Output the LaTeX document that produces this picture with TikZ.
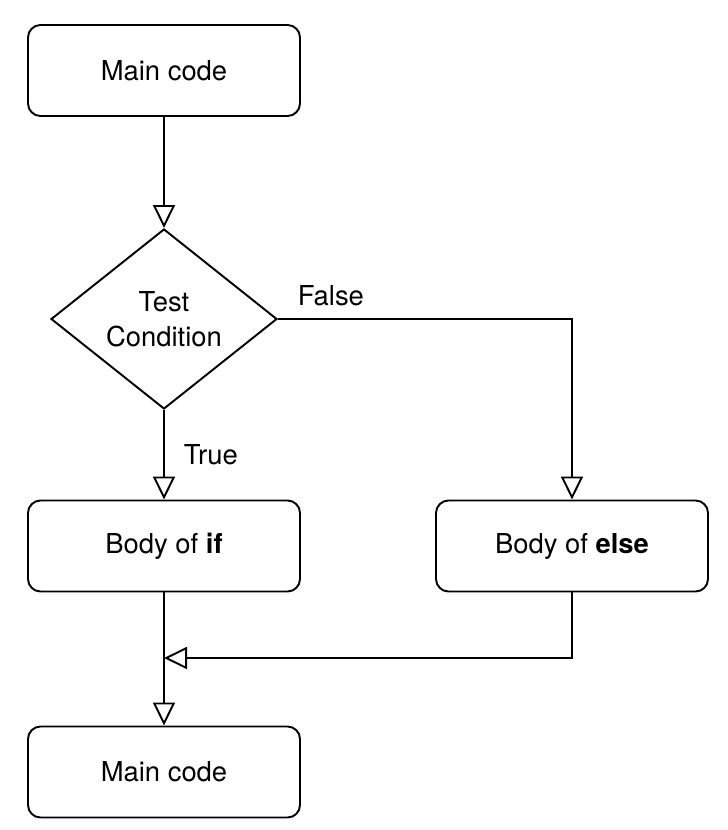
\documentclass[tikz,border=0pt]{standalone}
\usepackage{fontspec}
\setmainfont{TeX Gyre Heros}
\usetikzlibrary{arrows.meta,shapes.geometric}

\tikzset{
	block/.style={draw, line width=1.1pt, rounded corners=0.25cm, minimum width=5.44cm, minimum height=1.82cm, align=center},
	decide/.style={draw, line width=1.1pt, diamond, inner sep=0pt, aspect=1.25, minimum width=4.52cm, minimum height=3.6cm, align=center},
	flow/.style={line width=1.1pt, -{Triangle[open,length=0.46cm,width=0.44cm,line width=1.1pt]}},
}

\begin{document}
\begin{tikzpicture}[font=\fontsize{15.6}{19.8}\selectfont]
	\useasboundingbox (0,0) rectangle (14.54,-16.6);
	\node[block] (main1) at (3.28,-1.41) {Main code};
	\node[decide] (test) at (3.28,-6.38) {Test\\Condition};
	\node[block] (if) at (3.28,-10.92) {Body of \textbf{if}};
	\node[block] (else) at (11.44,-10.92) {Body of \textbf{else}};
	\node[block] (main2) at (3.28,-15.44) {Main code};
	\coordinate (merge) at (3.28,-13.16);
	\draw [flow](main1)--(test);
	\draw [flow](test)--(if) node[pos=0.5,right=0.26cm]{True};
	\draw [flow](test.east)-|(else.north) node[pos=0.09,above=0.12cm]{False};
	\draw [flow](if)--(main2);
	\draw [flow](else.south)|-(merge);
\end{tikzpicture}
\end{document}
